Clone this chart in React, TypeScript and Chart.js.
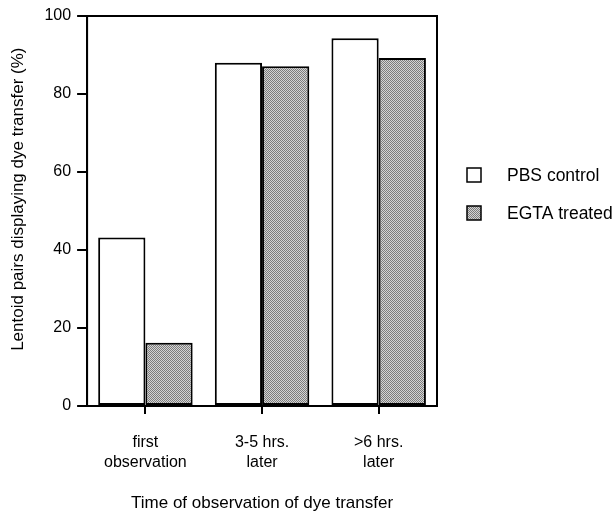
import React, { useEffect, useRef } from "react";
import { Chart, registerables } from "chart.js";

Chart.register(...registerables);

const categories: string[][] = [["first", "observation"], ["3-5 hrs.", "later"], [">6 hrs.", "later"]];
const pbsControl: number[] = [43.2, 88.0, 94.3];
const egtaTreated: number[] = [16.2, 87.1, 89.2];
const yTicks: number[] = [0, 20, 40, 60, 80, 100];
const seriesLabels: string[] = ["PBS control", "EGTA treated"];
const xTitle = "Time of observation of dye transfer";
const yTitle = "     Lentoid pairs displaying dye transfer (%)";

const FONT = "'Liberation Sans', Arial, Helvetica, sans-serif";

function makePattern(): CanvasPattern | string {
  const c = document.createElement("canvas");
  c.width = 2;
  c.height = 2;
  const g = c.getContext("2d");
  if (!g) return "#aaaaaa";
  g.fillStyle = "#d4d4d4";
  g.fillRect(0, 0, 2, 2);
  g.fillStyle = "#7c7c7c";
  g.fillRect(0, 0, 1, 1);
  g.fillRect(1, 1, 1, 1);
  const p = g.createPattern(c, "repeat");
  return p || "#aaaaaa";
}

export default function App() {
  const ref = useRef<HTMLCanvasElement | null>(null);

  useEffect(() => {
    document.body.style.margin = "0";
    const canvas = ref.current;
    if (!canvas) return;
    const pattern = makePattern();

    const frame = {
      id: "frame",
      afterDatasetsDraw(chart: any) {
        const { ctx, chartArea } = chart;
        ctx.save();
        ctx.strokeStyle = "#000";
        ctx.lineWidth = 2;
        ctx.strokeRect(chartArea.left, chartArea.top, chartArea.right - chartArea.left, chartArea.bottom - chartArea.top);
        ctx.restore();
      },
      afterDraw(chart: any) {
        const { ctx } = chart;
        ctx.save();
        ctx.font = `17.5px ${FONT}`;
        ctx.textBaseline = "middle";
        chart.data.datasets.forEach((ds: any, i: number) => {
          const x = 467;
          const y = 175 + i * 38;
          ctx.fillStyle = ds.backgroundColor;
          ctx.fillRect(x, y - 7, 14, 14);
          ctx.strokeStyle = "#000";
          ctx.lineWidth = 1.5;
          ctx.strokeRect(x, y - 7, 14, 14);
          ctx.fillStyle = "#000";
          ctx.fillText(ds.label, 507, y + 1);
        });
        ctx.restore();
      },
    };

    const chart = new Chart(canvas, {
      type: "bar",
      data: {
        labels: categories,
        datasets: [
          {
            label: seriesLabels[0],
            data: pbsControl,
            backgroundColor: "#ffffff",
            borderColor: "#000000",
            borderWidth: 2,
            borderSkipped: false,
          },
          {
            label: seriesLabels[1],
            data: egtaTreated,
            backgroundColor: pattern as any,
            borderColor: "#000000",
            borderWidth: 2,
            borderSkipped: false,
          },
        ],
      },
      options: {
        responsive: false,
        animation: false,
        events: [],
        layout: { padding: { top: 16, right: 179, left: 0, bottom: 0 } },
        datasets: { bar: { barPercentage: 1, categoryPercentage: 0.81 } },
        plugins: { legend: { display: false }, tooltip: { enabled: false } },
        scales: {
          x: {
            grid: { display: true, drawOnChartArea: false, drawTicks: true, tickLength: 8, offset: false, color: "#000", lineWidth: 2 },
            border: { display: true, color: "#000", width: 2 },
            ticks: { color: "#000", font: { family: FONT, size: 16, lineHeight: 1.25 }, padding: 19 },
            title: { display: true, text: xTitle, color: "#000", font: { family: FONT, size: 17, lineHeight: 1 }, padding: { top: 3, bottom: 0 } },
          },
          y: {
            min: 0,
            max: 100,
            afterBuildTicks(axis: any) {
              axis.ticks = yTicks.map((v) => ({ value: v }));
            },
            grid: { display: true, drawOnChartArea: false, drawTicks: true, tickLength: 10, color: "#000", lineWidth: 2 },
            border: { display: true, color: "#000", width: 2 },
            ticks: { color: "#000", font: { family: FONT, size: 16 }, padding: 6 },
            title: { display: true, text: yTitle, color: "#000", font: { family: FONT, size: 17, lineHeight: 1.2 }, padding: { top: 8, bottom: 10 } },
          },
        },
      },
      plugins: [frame],
    });

    return () => chart.destroy();
  }, []);

  return <canvas ref={ref} width={616} height={512} style={{ display: "block" }} />;
}
